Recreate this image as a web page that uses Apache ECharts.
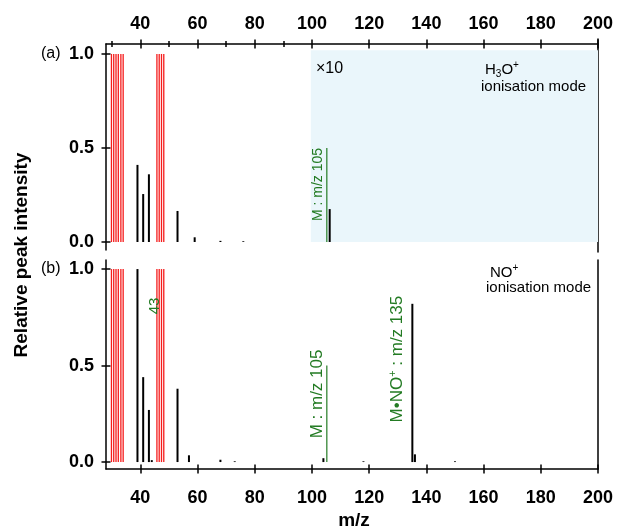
<!DOCTYPE html>
<html><head><meta charset="utf-8">
<script src="https://cdn.jsdelivr.net/npm/echarts@6/dist/echarts.min.js"></script>
<style>html,body{margin:0;padding:0;background:#fff}#c{width:617px;height:532px}</style>
</head><body><div id="c"></div>
<script>
// ---------- data ----------
const xTicks = [40, 60, 80, 100, 120, 140, 160, 180, 200];
const xMinorTicksTop = [30, 50, 70, 90];
const yTicks = [0, 0.5, 1.0];
const redLinesMz = [29.9, 30.7, 31.5, 32.3, 33.2, 34.0, 45.8, 46.6, 47.4, 48.2];
const redLinesVal = [1, 1, 1, 1, 1, 1, 1, 1, 1, 1];
// panel (a) H3O+ mode
const peaksAMz  = [39, 41, 43, 53, 59, 68, 76, 106.2];
const peaksAVal = [0.41, 0.255, 0.36, 0.165, 0.025, 0.006, 0.004, 0.175];
const zoomRegionA = [99.6, 200];   // x10 region (m/z)
const zoomRegionHeight = 1.02;
// panel (b) NO+ mode
const peaksBMz  = [39, 41, 43, 44, 53, 57, 68, 73, 104, 118, 135.1, 136, 150];
const peaksBVal = [1.0, 0.44, 0.27, 0.01, 0.38, 0.035, 0.012, 0.004, 0.02, 0.004, 0.82, 0.04, 0.004];
const markerMz = 105.2, markerVal = 0.5;         // M : m/z 105
const adductMz = 135.1, adductVal = 0.82;        // M•NO+ : m/z 135

const GREEN = '#237b23';
const FONT = 'Liberation Sans, Arial, sans-serif';

function pairs(xs, ys) { return xs.map((x, i) => [x, ys[i]]); }

function stick(color, width) {
  return function (params, api) {
    const p0 = api.coord([api.value(0), 0]);
    const p1 = api.coord([api.value(0), api.value(1)]);
    return { type: 'line', shape: { x1: p0[0], y1: p0[1], x2: p1[0], y2: p1[1] },
      style: { stroke: color, lineWidth: width } };
  };
}
function labelled(color, width, text, fontSize, dx, dy, rich) {
  return function (params, api) {
    const p0 = api.coord([api.value(0), 0]);
    const p1 = api.coord([api.value(0), api.value(1)]);
    const children = [];
    if (color) children.push({ type: 'line', shape: { x1: p0[0], y1: p0[1], x2: p1[0], y2: p1[1] },
      style: { stroke: color, lineWidth: width } });
    children.push({ type: 'text', x: p1[0] + dx, y: p1[1] + dy, rotation: Math.PI / 2,
      style: { text: text, fill: GREEN, fontSize: fontSize, fontFamily: FONT,
        align: 'right', verticalAlign: 'middle', rich: rich || {} } });
    return { type: 'group', children: children };
  };
}

const chart = echarts.init(document.getElementById('c'), null, { renderer: 'canvas' });

const tickStyle = { color: '#000', width: 1.5 };
const hidLine = { show: false, onZero: false };
function xAx(grid, pos, opts) {
  return Object.assign({
    type: 'value', gridIndex: grid, position: pos, min: 28, max: 200, offset: 0,
    axisLine: hidLine, axisTick: { show: false }, axisLabel: { show: false }, splitLine: { show: false }
  }, opts);
}
function yAx(grid, pos, min, max, opts) {
  return Object.assign({
    type: 'value', gridIndex: grid, position: pos, min: min, max: max, offset: 0,
    axisLine: hidLine, axisTick: { show: false }, axisLabel: { show: false }, splitLine: { show: false }
  }, opts);
}
const labStyle = { color: '#000', fontSize: 18, fontWeight: 'bold', fontFamily: FONT };
const shownLine = { show: true, onZero: false, lineStyle: tickStyle };
function crossTicks(values, half) {
  return { offset: -half, axisTick: { show: true, customValues: values, length: 2 * half, lineStyle: tickStyle } };
}
const A_MIN = -0.0426, A_MAX = 1.053, B_MIN = -0.036, B_MAX = 1.047;

const option = {
  animation: false,
  textStyle: { fontFamily: FONT },
  grid: [
    { left: 106, top: 44, width: 492, height: 206 },   // 0 panel a
    { left: 106, top: 260, width: 492, height: 209 },  // 1 panel b
    { left: 106, top: 44, width: 492, height: 206 },   // 2 panel a major crossing ticks
    { left: 106, top: 44, width: 492, height: 206 },   // 3 panel a minor crossing ticks
    { left: 106, top: 260, width: 492, height: 209 },  // 4 panel b crossing ticks
    { left: 106, top: 39, width: 492, height: 213 }    // 5 panel a right frame line
  ],
  xAxis: [
    xAx(0, 'top', { axisLine: shownLine,
      axisLabel: Object.assign({ show: true, customValues: xTicks, margin: 11 }, labStyle) }),
    xAx(1, 'bottom', { axisLine: shownLine,
      axisLabel: Object.assign({ show: true, customValues: xTicks, margin: 20 }, labStyle) }),
    xAx(2, 'top', crossTicks(xTicks, 4.5)),
    xAx(3, 'top', crossTicks(xMinorTicksTop, 3)),
    xAx(4, 'bottom', crossTicks(xTicks, 4.5)),
    xAx(5, 'top', {})
  ],
  yAxis: [
    yAx(0, 'left', A_MIN, A_MAX, { axisLine: shownLine,
      axisLabel: Object.assign({ show: true, customValues: yTicks, margin: 12, formatter: v => v.toFixed(1) }, labStyle) }),
    yAx(1, 'left', B_MIN, B_MAX, { axisLine: shownLine,
      axisLabel: Object.assign({ show: true, customValues: yTicks, margin: 12, formatter: v => v.toFixed(1) }, labStyle) }),
    yAx(2, 'left', A_MIN, A_MAX, crossTicks(yTicks, 4.5)),
    yAx(3, 'left', A_MIN, A_MAX, {}),
    yAx(4, 'left', B_MIN, B_MAX, crossTicks(yTicks, 4.5)),
    yAx(5, 'right', 0, 1, { axisLine: shownLine }),
    yAx(1, 'right', B_MIN, B_MAX, { axisLine: shownLine })
  ],
  series: [
    // panel (a)
    { type: 'custom', xAxisIndex: 0, yAxisIndex: 0, z: 1, clip: false,
      data: [[zoomRegionA[0], zoomRegionA[1], zoomRegionHeight]],
      renderItem: function (params, api) {
        const p0 = api.coord([api.value(0), 0]);
        const p1 = api.coord([api.value(1), api.value(2)]);
        return { type: 'rect', shape: { x: p0[0], y: p1[1], width: p1[0] - p0[0], height: p0[1] - p1[1] },
          style: { fill: '#eaf6fb' } };
      } },
    { type: 'custom', xAxisIndex: 0, yAxisIndex: 0, z: 2, data: pairs(redLinesMz, redLinesVal), renderItem: stick('#f51c1c', 1.3) },
    { type: 'custom', xAxisIndex: 0, yAxisIndex: 0, z: 3, data: pairs(peaksAMz, peaksAVal), renderItem: stick('#000', 2) },
    { type: 'custom', xAxisIndex: 0, yAxisIndex: 0, z: 3, data: [[markerMz, markerVal]],
      renderItem: labelled(GREEN, 1.2, 'M : m/z 105', 14, -8.5, 0) },
    // panel (b)
    { type: 'custom', xAxisIndex: 1, yAxisIndex: 1, z: 2, data: pairs(redLinesMz, redLinesVal), renderItem: stick('#f51c1c', 1.3) },
    { type: 'custom', xAxisIndex: 1, yAxisIndex: 1, z: 3, data: pairs(peaksBMz, peaksBVal), renderItem: stick('#000', 2) },
    { type: 'custom', xAxisIndex: 1, yAxisIndex: 1, z: 3, data: [[markerMz, markerVal]],
      renderItem: labelled(GREEN, 1.2, 'M : m/z 105', 17, -10, -16) },
    { type: 'custom', xAxisIndex: 1, yAxisIndex: 1, z: 3, data: [[adductMz, adductVal]],
      renderItem: labelled(null, 0, '{n|M•NO}{s|+}{n| : m/z 135}', 17, -15, -8,
        { n: { fontSize: 17, fill: GREEN, fontFamily: FONT }, s: { fontSize: 11, fill: GREEN, fontFamily: FONT, padding: [0, 0, 9, 0] } }) }
  ],
  graphic: [
    { type: 'text', z: 100, x: 22, y: 255, rotation: Math.PI / 2,
      style: { text: 'Relative peak intensity', fontSize: 19, fontWeight: 'bold', fontFamily: FONT, fill: '#000', align: 'center', verticalAlign: 'middle' } },
    { type: 'text', z: 100, x: 354, y: 521,
      style: { text: 'm/z', fontSize: 19, fontWeight: 'bold', fontFamily: FONT, fill: '#000', align: 'center', verticalAlign: 'middle' } },
    { type: 'text', z: 100, x: 41, y: 54, style: { text: '(a)', fontSize: 16, fontFamily: FONT, fill: '#000', verticalAlign: 'middle' } },
    { type: 'text', z: 100, x: 41, y: 269, style: { text: '(b)', fontSize: 16, fontFamily: FONT, fill: '#000', verticalAlign: 'middle' } },
    { type: 'text', z: 100, x: 316, y: 69, style: { text: '×10', fontSize: 16, fontFamily: FONT, fill: '#000', verticalAlign: 'middle' } },
    { type: 'text', z: 100, x: 485, y: 70, style: { text: '{n|H}{b|3}{n|O}{s|+}', verticalAlign: 'middle', fontFamily: FONT,
        rich: { n: { fontSize: 15, fill: '#000', fontFamily: FONT }, b: { fontSize: 10, fill: '#000', fontFamily: FONT, padding: [8, 0, 0, 0] },
                s: { fontSize: 10, fill: '#000', fontFamily: FONT, padding: [0, 0, 10, 0] } } } },
    { type: 'text', z: 100, x: 481, y: 87, style: { text: 'ionisation mode', fontSize: 15, fontFamily: FONT, fill: '#000', verticalAlign: 'middle' } },
    { type: 'text', z: 100, x: 490, y: 273, style: { text: '{n|NO}{s|+}', verticalAlign: 'middle', fontFamily: FONT,
        rich: { n: { fontSize: 15, fill: '#000', fontFamily: FONT }, s: { fontSize: 10, fill: '#000', fontFamily: FONT, padding: [0, 0, 10, 0] } } } },
    { type: 'text', z: 100, x: 486, y: 288, style: { text: 'ionisation mode', fontSize: 15, fontFamily: FONT, fill: '#000', verticalAlign: 'middle' } },
    { type: 'text', z: 100, x: 155, y: 306, rotation: Math.PI / 2,
      style: { text: '43', fontSize: 15, fontFamily: FONT, fill: GREEN, align: 'center', verticalAlign: 'middle' } }
  ]
};
chart.setOption(option);
</script></body></html>
